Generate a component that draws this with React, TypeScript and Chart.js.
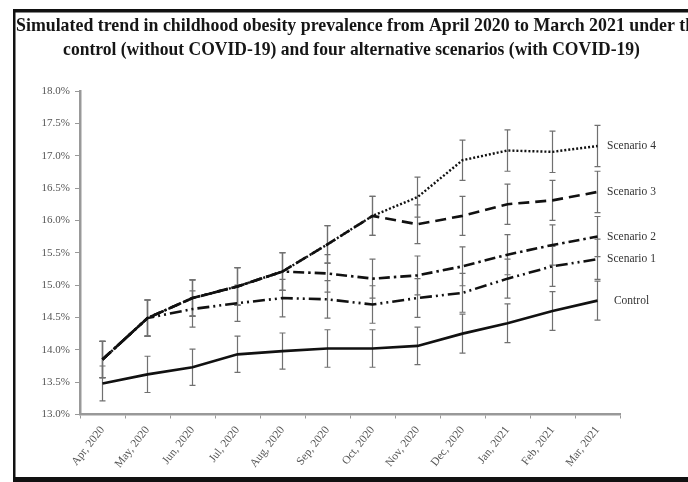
import React, { useEffect, useRef } from 'react';
import { Chart, registerables } from 'chart.js';

Chart.register(...registerables);

const months = ['Apr, 2020', 'May, 2020', 'Jun, 2020', 'Jul, 2020', 'Aug, 2020', 'Sep, 2020', 'Oct, 2020', 'Nov, 2020', 'Dec, 2020', 'Jan, 2021', 'Feb, 2021', 'Mar, 2021'];

const control = [13.48, 13.62, 13.73, 13.93, 13.98, 14.02, 14.02, 14.06, 14.25, 14.41, 14.6, 14.76];
const scenario1 = [13.85, 14.49, 14.63, 14.72, 14.8, 14.78, 14.7, 14.8, 14.88, 15.1, 15.29, 15.4];
const scenario2 = [13.85, 14.49, 14.8, 14.98, 15.21, 15.18, 15.1, 15.15, 15.29, 15.47, 15.62, 15.75];
const scenario3 = [13.85, 14.49, 14.8, 14.98, 15.21, 15.63, 16.07, 15.94, 16.07, 16.25, 16.31, 16.44];
const scenario4 = [13.85, 14.49, 14.8, 14.98, 15.21, 15.63, 16.07, 16.36, 16.93, 17.08, 17.06, 17.15];

const controlErr = [0.27, 0.28, 0.28, 0.28, 0.28, 0.29, 0.29, 0.29, 0.3, 0.3, 0.3, 0.3];
const scenario1Err = [0.28, 0.28, 0.28, 0.28, 0.29, 0.29, 0.29, 0.3, 0.3, 0.3, 0.31, 0.31];
const scenario2Err = [0.28, 0.28, 0.28, 0.29, 0.29, 0.29, 0.3, 0.3, 0.3, 0.31, 0.31, 0.31];
const scenario3Err = [0.28, 0.28, 0.28, 0.29, 0.29, 0.29, 0.3, 0.3, 0.3, 0.31, 0.31, 0.32];
const scenario4Err = [0.28, 0.28, 0.28, 0.29, 0.29, 0.29, 0.3, 0.31, 0.31, 0.32, 0.32, 0.32];

const seriesNames = ['Control', 'Scenario 1', 'Scenario 2', 'Scenario 3', 'Scenario 4'];
const titleLine1 = 'Simulated trend in childhood obesity prevalence from April 2020 to March 2021 under the';
const titleLine2 = 'control (without COVID-19) and four alternative scenarios (with COVID-19)';

const yMin = 13.0;
const yMax = 18.0;
const yStep = 0.5;

const allErrors = [controlErr, scenario1Err, scenario2Err, scenario3Err, scenario4Err];

const framePlugin = {
  id: 'frame',
  beforeDraw(chart: any) {
    const ctx = chart.ctx;
    ctx.save();
    ctx.fillStyle = '#ffffff';
    ctx.fillRect(0, 0, chart.width, chart.height);
    ctx.restore();
  },
  afterDraw(chart: any) {
    const ctx = chart.ctx;
    ctx.save();
    ctx.fillStyle = '#111';
    ctx.fillRect(13, 9, chart.width - 13, 3.5);
    ctx.fillRect(13, 9, 2.5, chart.height - 9);
    ctx.fillRect(13, 477, chart.width - 13, 5);
    // title
    ctx.fillStyle = '#161616';
    ctx.font = 'bold 19.5px "Liberation Serif", "Times New Roman", serif';
    ctx.textBaseline = 'alphabetic';
    ctx.save();
    ctx.translate(16, 31);
    ctx.scale(0.915, 1);
    ctx.textAlign = 'left';
    ctx.fillText(titleLine1, 0, 0);
    ctx.restore();
    ctx.save();
    ctx.translate(351.5, 55);
    ctx.scale(0.9, 1);
    ctx.textAlign = 'center';
    ctx.fillText(titleLine2, 0, 0);
    ctx.restore();
    ctx.restore();
  },
};

const errorBarPlugin = {
  id: 'errorBars',
  beforeDatasetsDraw(chart: any) {
    const ctx = chart.ctx;
    const xs = chart.scales.x;
    const ys = chart.scales.y;
    ctx.save();
    ctx.strokeStyle = '#707070';
    ctx.lineWidth = 1.2;
    chart.data.datasets.forEach((ds: any, i: number) => {
      const errs = allErrors[i];
      ds.data.forEach((v: number, j: number) => {
        const px = xs.getPixelForValue(j);
        const top = ys.getPixelForValue(v + errs[j]);
        const bot = ys.getPixelForValue(v - errs[j]);
        ctx.beginPath();
        ctx.moveTo(px, top);
        ctx.lineTo(px, bot);
        ctx.moveTo(px - 3, top);
        ctx.lineTo(px + 3, top);
        ctx.moveTo(px - 3, bot);
        ctx.lineTo(px + 3, bot);
        ctx.stroke();
      });
    });
    ctx.restore();
  },
};

const endLabelPlugin = {
  id: 'endLabels',
  afterDatasetsDraw(chart: any) {
    const ctx = chart.ctx;
    const xs = chart.scales.x;
    const ys = chart.scales.y;
    ctx.save();
    ctx.fillStyle = '#333';
    ctx.font = '11.5px "Liberation Serif", "Times New Roman", serif';
    ctx.textAlign = 'center';
    ctx.textBaseline = 'middle';
    chart.data.datasets.forEach((ds: any, i: number) => {
      const last = ds.data.length - 1;
      const px = xs.getPixelForValue(last);
      const py = ys.getPixelForValue(ds.data[last]);
      ctx.fillText(seriesNames[i], px + 34, py);
    });
    ctx.restore();
  },
};

export default function App() {
  const ref = useRef<HTMLCanvasElement | null>(null);

  useEffect(() => {
    if (!ref.current) return;
    const fam = '"Liberation Serif", "Times New Roman", serif';
    const common = { borderColor: '#111', borderWidth: 2.6, pointRadius: 0, tension: 0, fill: false, borderCapStyle: 'butt' as const };
    const chart = new Chart(ref.current, {
      type: 'line',
      data: {
        labels: months,
        datasets: [
          { label: seriesNames[0], data: control, ...common },
          { label: seriesNames[1], data: scenario1, ...common, borderDash: [12, 4, 2, 4, 2, 4] },
          { label: seriesNames[2], data: scenario2, ...common, borderDash: [11, 4, 2.5, 4] },
          { label: seriesNames[3], data: scenario3, ...common, borderDash: [11, 6] },
          { label: seriesNames[4], data: scenario4, ...common, borderWidth: 2.4, borderDash: [2, 2] },
        ],
      },
      options: {
        responsive: false,
        animation: false,
        events: [],
        layout: { padding: { top: 91, right: 68, bottom: 0, left: 0 } },
        plugins: {
          legend: { display: false },
          tooltip: { enabled: false },
          title: { display: false },
        },
        scales: {
          x: {
            type: 'category',
            offset: true,
            grid: { display: true, drawOnChartArea: false, drawTicks: true, tickLength: 4, offset: true, color: '#999' },
            border: { display: true, color: '#999', width: 2.5 },
            ticks: { font: { family: fam, size: 11.5 }, color: '#555', maxRotation: 52, minRotation: 52, autoSkip: false, padding: 5 },
            afterFit: (s: any) => { s.height = 67.5; },
          },
          y: {
            min: yMin,
            max: yMax,
            grid: { display: true, drawOnChartArea: false, drawTicks: true, tickLength: 5, color: '#999' },
            border: { display: true, color: '#999', width: 2.5 },
            ticks: {
              stepSize: yStep,
              font: { family: fam, size: 11 },
              color: '#555',
              padding: 5,
              callback: (v: any) => Number(v).toFixed(1) + '%',
            },
            afterFit: (s: any) => { s.width = 80; },
          },
        },
      },
      plugins: [framePlugin, errorBarPlugin, endLabelPlugin],
    });
    return () => chart.destroy();
  }, []);

  return (
    <div style={{ position: 'fixed', left: 0, top: 0, width: 688, height: 482, overflow: 'hidden', background: '#fff' }}>
      <canvas ref={ref} width={688} height={482} style={{ display: 'block', width: 688, height: 482 }} />
    </div>
  );
}
